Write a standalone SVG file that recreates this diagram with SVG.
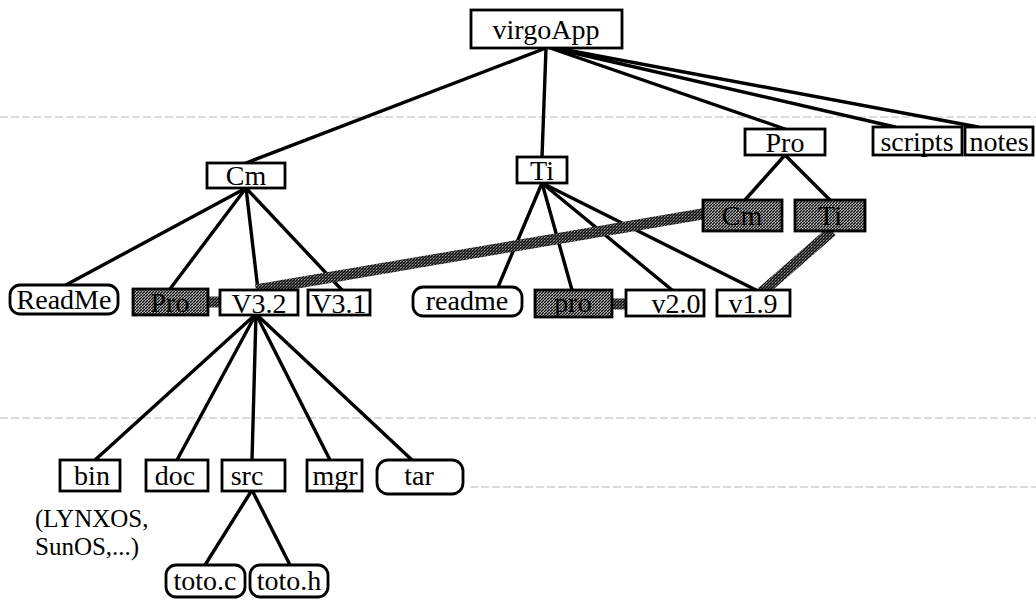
<svg xmlns="http://www.w3.org/2000/svg" width="1036" height="600" viewBox="0 0 1036 600">
  <style>
    .box { fill: #fff; stroke: #000; stroke-width: 2.8; }
    .shade { fill: url(#dither); stroke: #000; stroke-width: 2.8; }
    .lbl { font-family: "Liberation Serif", "Times New Roman", serif; font-size: 28px; fill: #000; text-anchor: middle; }
    .note { font-family: "Liberation Serif", "Times New Roman", serif; font-size: 25px; fill: #000; }
    .edge { stroke: #000; stroke-width: 3.4; fill: none; stroke-linecap: round; }
    .link { stroke: url(#ditherDark); stroke-width: 11; fill: none; }
    .rule { stroke: #b8b8b8; stroke-width: 1; fill: none; stroke-dasharray: 8 3; }
  </style>
  <defs>
    <pattern id="dither" width="3" height="3" patternUnits="userSpaceOnUse">
      <rect width="3" height="3" fill="#6e6e6e"/>
      <rect x="0" y="0" width="1" height="1" fill="#111"/>
      <rect x="2" y="1" width="1" height="1" fill="#111"/>
      <rect x="1" y="2" width="1" height="1" fill="#111"/>
      <rect x="1" y="0" width="1" height="1" fill="#bdbdbd"/>
      <rect x="0" y="2" width="1" height="1" fill="#bdbdbd"/>
    </pattern>
    <pattern id="ditherDark" width="3" height="3" patternUnits="userSpaceOnUse">
      <rect width="3" height="3" fill="#4a4a4a"/>
      <rect x="0" y="0" width="1" height="1" fill="#000"/>
      <rect x="2" y="1" width="1" height="1" fill="#000"/>
      <rect x="1" y="2" width="1" height="1" fill="#000"/>
      <rect x="1" y="0" width="1" height="1" fill="#9a9a9a"/>
    </pattern>
  </defs>
  <rect width="1036" height="600" fill="#fff"/>

  <!-- faint ruling on the sheet -->
  <g id="ruling">
    <line class="rule" x1="0" y1="117" x2="1036" y2="117"/>
    <line class="rule" x1="0" y1="418" x2="1036" y2="418" stroke-dasharray="3 6"/>
    <line class="rule" x1="470" y1="487" x2="1036" y2="487" stroke-dasharray="3 6"/>
  </g>

  <!-- tree edges and shortcut links -->
  <g id="connectors">
    <line class="edge" x1="546" y1="48" x2="246" y2="163"/>
    <line class="edge" x1="546" y1="48" x2="542" y2="157"/>
    <line class="edge" x1="550" y1="48" x2="785" y2="129"/>
    <line class="edge" x1="552" y1="48" x2="895" y2="127"/>
    <line class="edge" x1="556" y1="48" x2="978" y2="127"/>

    <line class="edge" x1="246" y1="188" x2="64" y2="286"/>
    <line class="edge" x1="246" y1="188" x2="170" y2="289"/>
    <line class="edge" x1="246" y1="188" x2="258" y2="290"/>
    <line class="edge" x1="246" y1="188" x2="342" y2="290"/>

    <line class="edge" x1="542" y1="183" x2="498" y2="287"/>
    <line class="edge" x1="542" y1="183" x2="572" y2="290"/>
    <line class="edge" x1="542" y1="183" x2="672" y2="290"/>
    <line class="edge" x1="542" y1="183" x2="756" y2="290"/>

    <line class="edge" x1="785" y1="155" x2="745" y2="200"/>
    <line class="edge" x1="785" y1="155" x2="830" y2="200"/>

    <line class="edge" x1="256" y1="314" x2="95" y2="460"/>
    <line class="edge" x1="256" y1="314" x2="177" y2="460"/>
    <line class="edge" x1="256" y1="314" x2="252" y2="460"/>
    <line class="edge" x1="256" y1="314" x2="330" y2="460"/>
    <line class="edge" x1="256" y1="314" x2="412" y2="460"/>

    <line class="edge" x1="252" y1="490" x2="205" y2="565"/>
    <line class="edge" x1="252" y1="490" x2="290" y2="565"/>

    <line class="link" x1="708" y1="213" x2="256" y2="290"/>
    <line class="link" x1="832" y1="231" x2="762" y2="292"/>
    <line class="link" x1="207" y1="302" x2="221" y2="302" stroke-width="7"/>
    <line class="link" x1="611" y1="304" x2="627" y2="304" stroke-width="7"/>
  </g>

  <g id="virgoApp"><rect class="box" x="471" y="10" width="151" height="38"/><text class="lbl" x="546" y="39">virgoApp</text></g>
  <g id="Cm"><rect class="box" x="207" y="163" width="78" height="25"/><text class="lbl" x="246" y="185">Cm</text></g>
  <g id="Ti"><rect class="box" x="517" y="157" width="50" height="26"/><text class="lbl" x="542" y="180">Ti</text></g>
  <g id="Pro"><rect class="box" x="745" y="129" width="80" height="26"/><text class="lbl" x="785" y="152">Pro</text></g>
  <g id="scripts"><rect class="box" x="873" y="127" width="89" height="28"/><text class="lbl" x="917" y="151">scripts</text></g>
  <g id="notes"><rect class="box" x="965" y="127" width="68" height="28"/><text class="lbl" x="999" y="151">notes</text></g>

  <g id="Pro-Cm"><rect class="shade" x="703" y="200" width="79" height="31"/><text class="lbl" x="742" y="225">Cm</text></g>
  <g id="Pro-Ti"><rect class="shade" x="795" y="200" width="70" height="31"/><text class="lbl" x="830" y="225">Ti</text></g>

  <g id="ReadMe"><rect class="box" x="10" y="285" width="108" height="29" rx="10"/><text class="lbl" x="64" y="309">ReadMe</text></g>
  <g id="Cm-Pro"><rect class="shade" x="133" y="289" width="75" height="26"/><text class="lbl" x="170" y="312">Pro</text></g>
  <g id="V3.2"><rect class="box" x="220" y="290" width="78" height="25"/><text class="lbl" x="259" y="313">V3.2</text></g>
  <g id="V3.1"><rect class="box" x="308" y="290" width="62" height="25"/><text class="lbl" x="339" y="313">V3.1</text></g>

  <g id="readme"><rect class="box" x="413" y="287" width="109" height="29" rx="10"/><text class="lbl" x="467" y="310">readme</text></g>
  <g id="Ti-pro"><rect class="shade" x="535" y="290" width="77" height="27"/><text class="lbl" x="573" y="312">pro</text></g>
  <g id="v2.0"><rect class="box" x="626" y="290" width="78" height="26"/><text class="lbl" x="676" y="313">v2.0</text></g>
  <g id="v1.9"><rect class="box" x="717" y="290" width="73" height="26"/><text class="lbl" x="753" y="313">v1.9</text></g>

  <g id="bin"><rect class="box" x="60" y="460" width="60" height="31"/><text class="lbl" x="92" y="485">bin</text></g>
  <g id="doc"><rect class="box" x="146" y="460" width="62" height="31"/><text class="lbl" x="175" y="485">doc</text></g>
  <g id="src"><rect class="box" x="222" y="460" width="63" height="31"/><text class="lbl" x="247" y="485">src</text></g>
  <g id="mgr"><rect class="box" x="307" y="460" width="55" height="31"/><text class="lbl" x="335" y="485">mgr</text></g>
  <g id="tar"><rect class="box" x="377" y="460" width="86" height="34" rx="11"/><text class="lbl" x="419" y="485">tar</text></g>
  <text class="note" x="35" y="527">(LYNXOS,</text>
  <text class="note" x="35" y="555">SunOS,...)</text>

  <g id="toto.c"><rect class="box" x="166" y="565" width="79" height="32" rx="10"/><text class="lbl" x="205" y="590">toto.c</text></g>
  <g id="toto.h"><rect class="box" x="250" y="565" width="78" height="32" rx="10"/><text class="lbl" x="289" y="590">toto.h</text></g>
</svg>
